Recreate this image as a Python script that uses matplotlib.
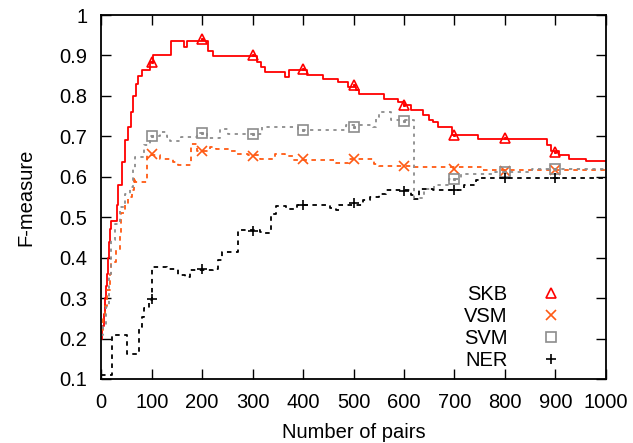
import matplotlib
matplotlib.use("Agg")
import matplotlib.pyplot as plt
from matplotlib.lines import Line2D

plt.rcParams['font.family'] = ['Liberation Sans', 'DejaVu Sans']
plt.rcParams['font.size'] = 14.5

# step curves (x = number of pairs, y = F-measure), drawn as post-steps
skb_x = [0, 2, 5, 7, 9, 12, 14, 16, 18, 20, 31, 34, 41, 47, 53, 59, 63, 68, 73, 80, 97, 103,
         138, 164, 170, 212, 221, 308, 316, 324, 365, 373, 407, 440, 469, 489, 505, 511,
         561, 588, 600, 614, 637, 649, 657, 667, 695, 746, 884, 891, 907, 927, 960, 1000]
skb_y = [0.20, 0.23, 0.26, 0.30, 0.33, 0.36, 0.40, 0.44, 0.47, 0.49, 0.53, 0.58, 0.637, 0.69,
         0.723, 0.76, 0.80, 0.83, 0.85, 0.864, 0.885, 0.90, 0.935, 0.922, 0.937, 0.912, 0.898,
         0.884, 0.871, 0.859, 0.846, 0.863, 0.853, 0.842, 0.834, 0.822, 0.815, 0.805, 0.793,
         0.785, 0.778, 0.766, 0.752, 0.74, 0.735, 0.723, 0.703, 0.693, 0.678, 0.665, 0.653,
         0.645, 0.639, 0.639]

vsm_x = [0, 4, 7, 12, 17, 20, 30, 37, 40, 48, 53, 60, 64, 66, 90, 116, 142, 152, 177, 190,
         215, 228, 258, 270, 290, 314, 344, 364, 380, 466, 492, 541, 551, 620, 755, 1000]
vsm_y = [0.22, 0.25, 0.28, 0.32, 0.36, 0.39, 0.42, 0.46, 0.51, 0.53, 0.55, 0.567, 0.60, 0.587,
         0.653, 0.645, 0.637, 0.628, 0.682, 0.665, 0.673, 0.669, 0.663, 0.657, 0.653, 0.643,
         0.657, 0.652, 0.642, 0.634, 0.645, 0.631, 0.627, 0.624, 0.616, 0.616]

svm_x = [0, 4, 10, 15, 20, 27, 37, 47, 57, 62, 66, 85, 97, 116, 130, 137, 159, 190, 210,
         235, 252, 318, 390, 485, 538, 545, 551, 574, 620, 640, 660, 690, 713, 780, 854, 1000]
svm_y = [0.21, 0.23, 0.278, 0.36, 0.443, 0.484, 0.525, 0.558, 0.575, 0.62, 0.65, 0.678, 0.70,
         0.711, 0.698, 0.688, 0.698, 0.708, 0.695, 0.718, 0.706, 0.723, 0.715, 0.727, 0.723,
         0.748, 0.76, 0.74, 0.548, 0.57, 0.58, 0.594, 0.606, 0.612, 0.62, 0.62]

ner_x = [0, 21, 51, 74, 80, 84, 94, 100, 130, 153, 166, 176, 222, 232, 239, 271, 314, 324,
         337, 347, 367, 387, 453, 466, 472, 518, 532, 551, 565, 614, 620, 630, 657, 719, 742,
         749, 1000]
ner_y = [0.11, 0.209, 0.163, 0.229, 0.254, 0.275, 0.295, 0.377, 0.371, 0.357, 0.353, 0.369,
         0.371, 0.394, 0.414, 0.468, 0.464, 0.46, 0.509, 0.527, 0.521, 0.53, 0.524, 0.517,
         0.53, 0.542, 0.55, 0.558, 0.567, 0.554, 0.546, 0.571, 0.567, 0.579, 0.591, 0.597,
         0.597]

# point markers every 100 pairs
marker_x = [100, 200, 300, 400, 500, 600, 700, 800, 900]
skb_pts = [0.885, 0.94, 0.90, 0.867, 0.826, 0.778, 0.703, 0.695, 0.662]
vsm_pts = [0.656, 0.665, 0.651, 0.645, 0.645, 0.627, 0.62, 0.614, 0.616]
svm_pts = [0.702, 0.708, 0.706, 0.715, 0.723, 0.738, 0.594, 0.612, 0.62]
ner_pts = [0.298, 0.371, 0.466, 0.53, 0.535, 0.566, 0.567, 0.597, 0.597]

names = ["SKB", "VSM", "SVM", "NER"]
colors = ["#ff0000", "#ff5a14", "#8c8c8c", "#000000"]
markers = ["^", "x", "s", "+"]
dashes = ["-", (0, (2.5, 2.5)), (0, (1.8, 2.5)), (0, (2.5, 2.5))]


def main():
    fig = plt.figure(figsize=(6.33, 4.43), dpi=100)
    ax = fig.add_axes([0.16, 0.1445, 0.797, 0.8215])

    series = [(skb_x, skb_y, skb_pts), (vsm_x, vsm_y, vsm_pts),
              (svm_x, svm_y, svm_pts), (ner_x, ner_y, ner_pts)]
    handles = []
    for (xs, ys, pts), name, c, m, ls in zip(series, names, colors, markers, dashes):
        ax.step(xs, ys, where="post", color=c, linestyle=ls, linewidth=1.3)
        ax.plot(marker_x, pts, linestyle="none", marker=m, markersize=7,
                markerfacecolor="none", markeredgecolor=c, markeredgewidth=1.2)
        if m in ("^", "s"):
            ax.plot(marker_x, pts, linestyle="none", marker="s", markersize=1.2,
                    color=c)
        handles.append(Line2D([], [], linestyle="none", marker=m, markersize=6.5,
                              markerfacecolor="none", markeredgecolor=c,
                              markeredgewidth=1.2))

    ax.set_xlim(0, 1000)
    ax.set_ylim(0.1, 1.0)
    ax.set_xticks(range(0, 1001, 100))
    ax.set_yticks([0.1, 0.2, 0.3, 0.4, 0.5, 0.6, 0.7, 0.8, 0.9, 1.0])
    ax.set_yticklabels(["0.1", "0.2", "0.3", "0.4", "0.5", "0.6", "0.7", "0.8", "0.9", "1"])
    ax.tick_params(direction="in", length=7, width=1, top=True, right=True)
    ax.tick_params(axis="x", pad=10)
    ax.tick_params(axis="y", pad=10)
    for s in ax.spines.values():
        s.set_linewidth(1.3)

    ax.set_xlabel("Number of pairs", labelpad=8)
    ax.set_ylabel("F-measure", labelpad=17)

    ax.legend(handles, names, loc="lower right", bbox_to_anchor=(0.911, 0.025),
              frameon=False, markerfirst=False, handlelength=1.0,
              handletextpad=1.64, labelspacing=0.14, borderpad=0, borderaxespad=0)

    fig.savefig("out.png", dpi=100)


if __name__ == "__main__":
    main()
